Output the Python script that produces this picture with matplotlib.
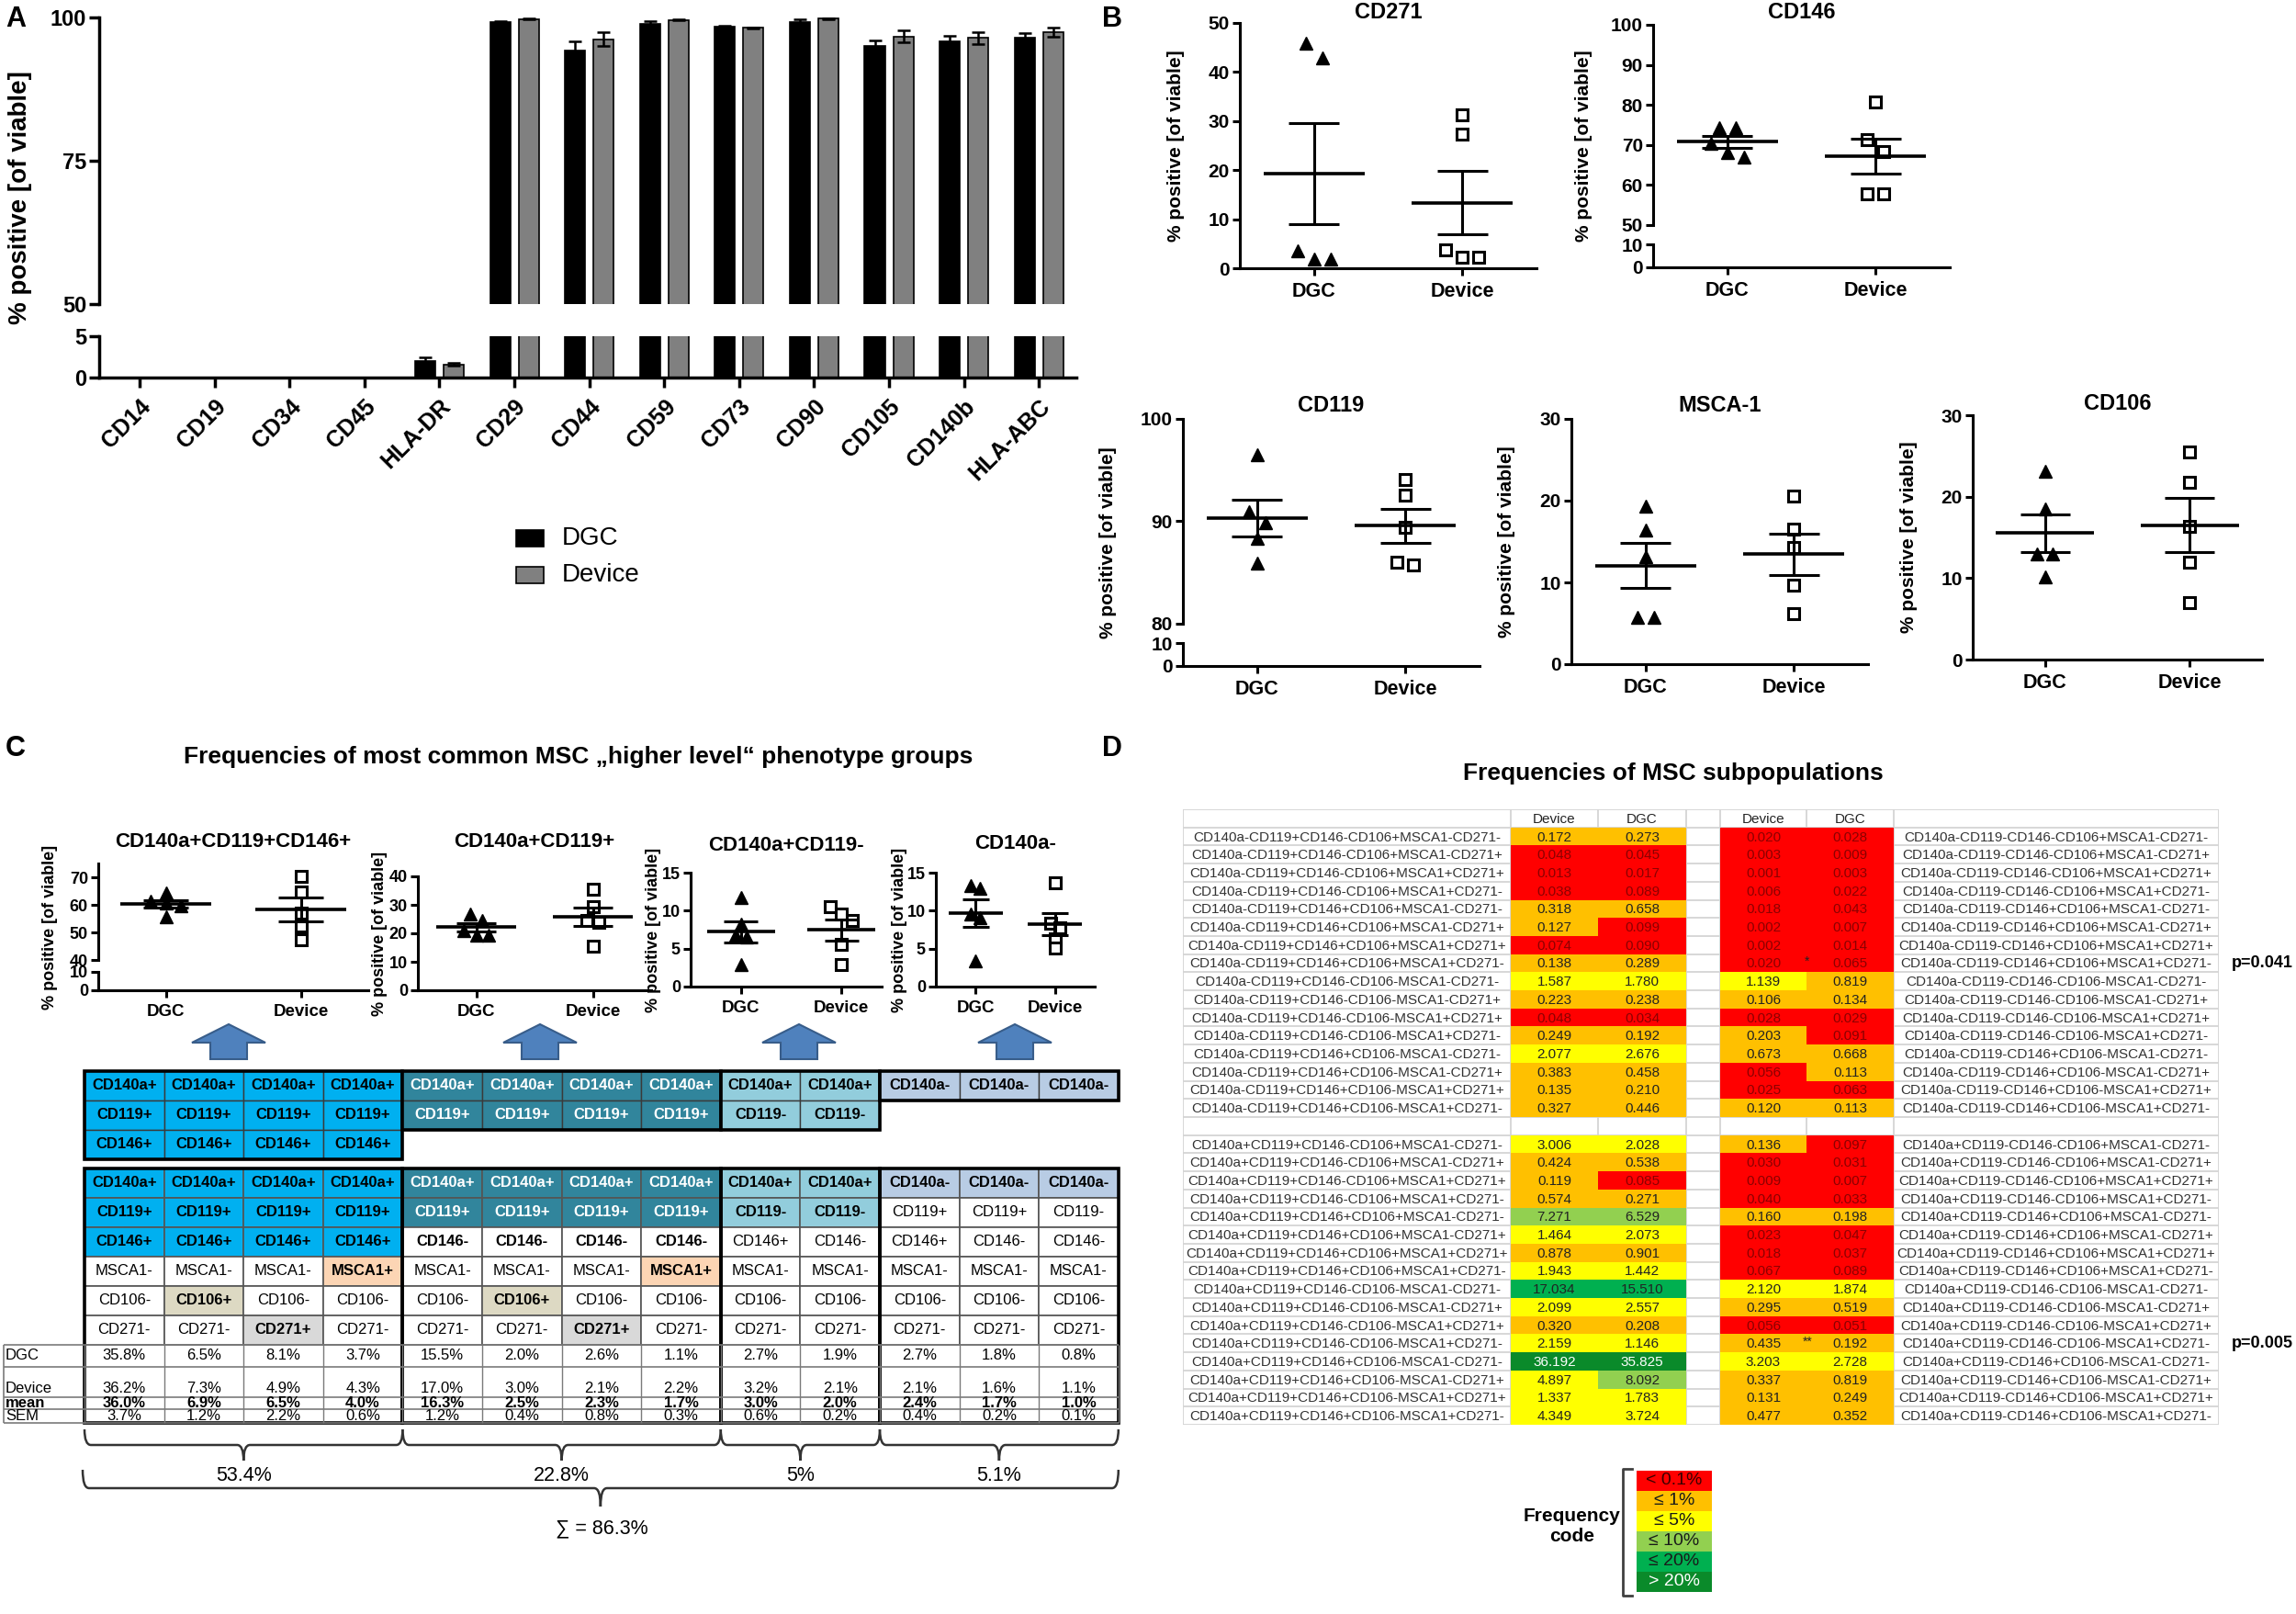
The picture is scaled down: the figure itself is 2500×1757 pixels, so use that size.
import numpy as np
import matplotlib
matplotlib.use("Agg")
import matplotlib.pyplot as plt
from matplotlib.patches import Rectangle, FancyArrow, PathPatch
from matplotlib.path import Path

plt.rcParams['font.family'] = ['Liberation Sans', 'DejaVu Sans']

W, H = 2500, 1757

# ---------------- panel A: surface markers (mean, SEM)
markers_a = ["CD14", "CD19", "CD34", "CD45", "HLA-DR", "CD29", "CD44", "CD59",
             "CD73", "CD90", "CD105", "CD140b", "HLA-ABC"]
dgc_a = [0, 0, 0, 0, 2.05, 99.2, 94.3, 98.9, 98.4, 99.2, 95.1, 95.9, 96.4]
dgc_a_err = [0, 0, 0, 0, 0.45, 0.2, 1.6, 0.5, 0.1, 0.5, 0.9, 0.9, 0.9]
dev_a = [0, 0, 0, 0, 1.6, 99.7, 96.2, 99.55, 98.2, 99.8, 96.7, 96.4, 97.5]
dev_a_err = [0, 0, 0, 0, 0.2, 0.1, 1.2, 0.1, 0.1, 0.05, 1.0, 1.0, 0.8]

# ---------------- panel B: single markers, 5 donors each
cd271_dgc = [45.9, 42.9, 3.6, 1.9, 1.9]
cd271_dev = [31.3, 27.3, 3.7, 2.3, 2.3]
cd146_dgc = [74.3, 74.3, 70.3, 68.1, 67.0]
cd146_dev = [80.8, 71.4, 68.3, 57.8, 57.8]
cd119_dgc = [96.5, 90.9, 89.9, 88.3, 85.9]
cd119_dev = [94.1, 92.6, 89.4, 86.0, 85.7]
msca1_dgc = [19.3, 16.4, 13.1, 5.7, 5.7]
msca1_dev = [20.6, 16.5, 14.3, 9.7, 6.2]
cd106_dgc = [23.1, 18.5, 13.0, 13.0, 10.1]
cd106_dev = [25.5, 21.8, 16.4, 11.9, 7.0]

# ---------------- panel C: phenotype groups
grp_titles = ["CD140a+CD119+CD146+", "CD140a+CD119+", "CD140a+CD119-", "CD140a-"]
g1_dgc = [64.4, 61.2, 60.6, 59.8, 55.6]
g1_dev = [70.5, 64.7, 57.0, 52.2, 47.2]
g2_dgc = [26.7, 24.5, 21.0, 19.5, 19.5]
g2_dev = [35.5, 29.5, 24.6, 24.0, 15.4]
g3_dgc = [11.7, 8.2, 6.8, 6.5, 2.95]
g3_dev = [10.5, 9.6, 8.7, 5.6, 2.9]
g4_dgc = [13.35, 12.9, 9.5, 9.1, 3.4]
g4_dev = [13.7, 8.4, 7.7, 6.3, 5.1]

c_rows = [
    ["CD140a+"] * 10 + ["CD140a-"] * 3,
    ["CD119+"] * 8 + ["CD119-"] * 2 + ["CD119+", "CD119+", "CD119-"],
    ["CD146+"] * 4 + ["CD146-"] * 4 + ["CD146+", "CD146-", "CD146+", "CD146-", "CD146-"],
    ["MSCA1-"] * 3 + ["MSCA1+"] + ["MSCA1-"] * 3 + ["MSCA1+"] + ["MSCA1-"] * 5,
    ["CD106-", "CD106+", "CD106-", "CD106-", "CD106-", "CD106+"] + ["CD106-"] * 7,
    ["CD271-", "CD271-", "CD271+", "CD271-", "CD271-", "CD271-", "CD271+"] + ["CD271-"] * 6,
]
c_dgc = [35.8, 6.5, 8.1, 3.7, 15.5, 2.0, 2.6, 1.1, 2.7, 1.9, 2.7, 1.8, 0.8]
c_dev = [36.2, 7.3, 4.9, 4.3, 17.0, 3.0, 2.1, 2.2, 3.2, 2.1, 2.1, 1.6, 1.1]
c_mean = [36.0, 6.9, 6.5, 4.0, 16.3, 2.5, 2.3, 1.7, 3.0, 2.0, 2.4, 1.7, 1.0]
c_sem = [3.7, 1.2, 2.2, 0.6, 1.2, 0.4, 0.8, 0.3, 0.6, 0.2, 0.4, 0.2, 0.1]
grp_cols = [(0, 4), (4, 8), (8, 10), (10, 13)]
grp_depth = [3, 2, 2, 1]
grp_sum = [53.4, 22.8, 5, 5.1]
total_sum = 86.3

# ---------------- panel D: subpopulation frequencies
row_suffix = ["CD146-CD106+MSCA1-CD271-", "CD146-CD106+MSCA1-CD271+",
              "CD146-CD106+MSCA1+CD271+", "CD146-CD106+MSCA1+CD271-",
              "CD146+CD106+MSCA1-CD271-", "CD146+CD106+MSCA1-CD271+",
              "CD146+CD106+MSCA1+CD271+", "CD146+CD106+MSCA1+CD271-",
              "CD146-CD106-MSCA1-CD271-", "CD146-CD106-MSCA1-CD271+",
              "CD146-CD106-MSCA1+CD271+", "CD146-CD106-MSCA1+CD271-",
              "CD146+CD106-MSCA1-CD271-", "CD146+CD106-MSCA1-CD271+",
              "CD146+CD106-MSCA1+CD271+", "CD146+CD106-MSCA1+CD271-"]
prefixes = [["CD140a-CD119+", "CD140a-CD119-"], ["CD140a+CD119+", "CD140a+CD119-"]]
tl_dev = [0.172, 0.048, 0.013, 0.038, 0.318, 0.127, 0.074, 0.138,
          1.587, 0.223, 0.048, 0.249, 2.077, 0.383, 0.135, 0.327]
tl_dgc = [0.273, 0.045, 0.017, 0.089, 0.658, 0.099, 0.090, 0.289,
          1.780, 0.238, 0.034, 0.192, 2.676, 0.458, 0.210, 0.446]
tr_dev = [0.020, 0.003, 0.001, 0.006, 0.018, 0.002, 0.002, 0.020,
          1.139, 0.106, 0.028, 0.203, 0.673, 0.056, 0.025, 0.120]
tr_dgc = [0.028, 0.009, 0.003, 0.022, 0.043, 0.007, 0.014, 0.065,
          0.819, 0.134, 0.029, 0.091, 0.668, 0.113, 0.063, 0.113]
bl_dev = [3.006, 0.424, 0.119, 0.574, 7.271, 1.464, 0.878, 1.943,
          17.034, 2.099, 0.320, 2.159, 36.192, 4.897, 1.337, 4.349]
bl_dgc = [2.028, 0.538, 0.085, 0.271, 6.529, 2.073, 0.901, 1.442,
          15.510, 2.557, 0.208, 1.146, 35.825, 8.092, 1.783, 3.724]
br_dev = [0.136, 0.030, 0.009, 0.040, 0.160, 0.023, 0.018, 0.067,
          2.120, 0.295, 0.056, 0.435, 3.203, 0.337, 0.131, 0.477]
br_dgc = [0.097, 0.031, 0.007, 0.033, 0.198, 0.047, 0.037, 0.089,
          1.874, 0.519, 0.051, 0.192, 2.728, 0.819, 0.249, 0.352]
signif = [(0, 7, "*", "p=0.041"), (1, 11, "**", "p=0.005")]   # block, row, stars, p
freq_edges = [0.1, 1, 5, 10, 20]
freq_colors = ["#FF0000", "#FFC000", "#FFFF00", "#92D050", "#00B050", "#0A8A2A"]
freq_labels = ["< 0.1%", "≤ 1%", "≤ 5%", "≤ 10%", "≤ 20%", "> 20%"]


fig = plt.figure(figsize=(W / 100, H / 100), dpi=100)


def add_ax(x0, y0, x1, y1):
    # pixel box (top-left origin) -> figure axes
    return fig.add_axes([x0 / W, 1 - y1 / H, (x1 - x0) / W, (y1 - y0) / H])


ov = add_ax(0, 0, W, H)
ov.set_xlim(0, W)
ov.set_ylim(H, 0)
ov.axis('off')


def bold_ticks(ax):
    for t in ax.get_xticklabels() + ax.get_yticklabels():
        t.set_fontweight('bold')


def style_ax(ax, fs, lw=2.2, tl=6):
    for sp in ('top', 'right'):
        ax.spines[sp].set_visible(False)
    for sp in ('left', 'bottom'):
        ax.spines[sp].set_linewidth(lw)
    ax.tick_params(direction='out', length=tl, width=lw, labelsize=fs, pad=2)
    ax.patch.set_alpha(0)


def spread(vals, tol, step):
    vals = np.asarray(vals, float)
    order = np.argsort(-vals)
    offs = np.zeros(len(vals))
    groups, cur = [], [order[0]]
    for i in order[1:]:
        if abs(vals[cur[-1]] - vals[i]) < tol:
            cur.append(i)
        else:
            groups.append(cur)
            cur = [i]
    groups.append(cur)
    for g in groups:
        for k, idx in enumerate(g):
            offs[idx] = (k - (len(g) - 1) / 2) * step
    return offs


def dot_plot(x0, x1, y_top, y_zero, ylim, yticks, dgc, dev, title, fs, tfs, ms,
             brk=None, xr=(-0.5, 1.5), ydx=70, ty=None):
    if brk is None:
        up = lo = add_ax(x0, y_top, x1, y_zero)
        axes = [up]
    else:
        y_up_bot, y_lo_top, lo_lim, lo_ticks = brk
        up = add_ax(x0, y_top, x1, y_up_bot)
        lo = add_ax(x0, y_lo_top, x1, y_zero)
        axes = [up, lo]
        lo.set_ylim(*lo_lim)
        lo.set_yticks(lo_ticks)
    for ax in axes:
        style_ax(ax, fs)
        ax.set_xlim(*xr)
    if brk is not None:
        up.spines['bottom'].set_visible(False)
        up.set_xticks([])
    up.set_ylim(*ylim)
    up.set_yticks(list(yticks))
    lo.set_xticks([0, 1])
    lo.set_xticklabels(["DGC", "Device"], fontsize=fs + 0.5)
    lo.tick_params(axis='x', pad=5)
    tol = 0.065 * (ylim[1] - ylim[0])
    for i, vals in enumerate((dgc, dev)):
        offs = spread(vals, tol, 0.11)
        if i == 0:
            up.plot(i + offs, vals, ls='none', marker='^', ms=ms, color='black', clip_on=False)
        else:
            up.plot(i + offs, vals, ls='none', marker='s', ms=ms * 0.85, mfc='white',
                    mec='black', mew=2.2, clip_on=False)
        m = np.mean(vals)
        se = np.std(vals, ddof=1) / np.sqrt(len(vals))
        up.hlines(m, i - 0.34, i + 0.34, color='black', lw=2.6)
        up.vlines(i, m - se, m + se, color='black', lw=2.2)
        up.hlines([m - se, m + se], i - 0.17, i + 0.17, color='black', lw=2.2)
    for ax in axes:
        bold_ticks(ax)
    ov.text(x0 - ydx, (y_top + y_zero) / 2, "% positive [of viable]", rotation=90,
            ha='center', va='center', fontsize=fs, fontweight='bold')
    ty = y_top - 12 if ty is None else ty
    ov.text((x0 + x1) / 2, ty, title, ha='center', va='center', fontsize=tfs, fontweight='bold')


# ================= panel A =================
xa = np.arange(len(markers_a))
axA_up = add_ax(108, 19, 1172, 331)
axA_lo = add_ax(108, 366, 1172, 411)
for ax in (axA_up, axA_lo):
    for off, vals, errs, col in ((-0.19, dgc_a, dgc_a_err, 'black'),
                                 (0.19, dev_a, dev_a_err, '#808080')):
        ax.bar(xa + off, vals, 0.27, color=col, edgecolor='black', linewidth=1.2)
        e = np.array(errs) > 0
        ax.errorbar((xa + off)[e], np.array(vals)[e], yerr=np.array(errs)[e], fmt='none',
                    ecolor='black', elinewidth=1.8, capsize=5, capthick=1.8)
    style_ax(ax, 17, lw=2.5, tl=8)
    ax.set_xlim(-0.54, 12.5)
axA_up.set_ylim(50, 100)
axA_up.set_yticks([50, 75, 100])
axA_up.spines['bottom'].set_visible(False)
axA_up.set_xticks([])
axA_lo.set_ylim(0, 5)
axA_lo.set_yticks([0, 5])
axA_lo.set_xticks(xa)
axA_lo.set_xticklabels(markers_a, rotation=45, ha='right', rotation_mode='anchor', fontsize=18)
axA_lo.tick_params(axis='x', pad=6)
bold_ticks(axA_up)
bold_ticks(axA_lo)
ov.text(22, 215, "% positive [of viable]", rotation=90, ha='center', va='center',
        fontsize=20, fontweight='bold')
for k, (lab, col) in enumerate((("DGC", 'black'), ("Device", '#808080'))):
    ov.add_patch(Rectangle((562, 577 + 40 * k), 30, 18, fc=col, ec='black', lw=1.2))
    ov.text(612, 586 + 40 * k, lab, ha='left', va='center', fontsize=20)

# ================= panel B =================
dot_plot(1350, 1673, 25, 292, (0, 50), range(0, 51, 10), cd271_dgc, cd271_dev, "CD271",
         15, 17, 10, ty=14)
dot_plot(1800, 2123, 27, 291, (50, 100), range(50, 101, 10), cd146_dgc, cd146_dev, "CD146",
         15, 17, 10, brk=(245, 266, (0, 10), [0, 10]), ydx=76, ty=14)
dot_plot(1288, 1611, 456, 725, (80, 100), [80, 90, 100], cd119_dgc, cd119_dev, "CD119",
         15, 17, 10, brk=(679, 700, (0, 10), [0, 10]), ydx=82, ty=442)
dot_plot(1711, 2034, 456, 723, (0, 30), [0, 10, 20, 30], msca1_dgc, msca1_dev, "MSCA-1",
         15, 17, 10, ty=442)
dot_plot(2148, 2463, 452, 718, (0, 30), [0, 10, 20, 30], cd106_dgc, cd106_dev, "CD106",
         15, 17, 10, ty=440)

# ================= panel C plots =================
dot_plot(107, 401, 940, 1078, (40, 75), [40, 50, 60, 70], g1_dgc, g1_dev, grp_titles[0],
         13, 16, 9.5, brk=(1045, 1058, (0, 10), [0, 10]), ydx=52, ty=917)
dot_plot(455, 709, 954, 1078, (0, 40), range(0, 41, 10), g2_dgc, g2_dev, grp_titles[1],
         13, 16, 9.5, ydx=42, ty=917)
dot_plot(752, 960, 950, 1074, (0, 15), [0, 5, 10, 15], g3_dgc, g3_dev, grp_titles[2],
         13, 16, 9.5, xr=(-0.5, 1.4), ydx=40, ty=920)
dot_plot(1019, 1192, 950, 1074, (0, 15), [0, 5, 10, 15], g4_dgc, g4_dev, grp_titles[3],
         13, 16, 9.5, ydx=40, ty=919)

# ================= panel C tables =================
col_w = 86.6
cx = [92 + i * col_w for i in range(14)]
grp_color = ['#00B0F0', '#31859C', '#92CDDC', '#B8CCE4']
grp_txt = ['black', 'white', 'black', 'black']
hi_color = {"MSCA1+": '#FCD5B4', "CD106+": '#DDD9C3', "CD271+": '#D9D9D9'}
col_grp = [g for g, (a, b) in enumerate(grp_cols) for _ in range(a, b)]

for xc in [249, 588, 870, 1105]:
    ov.add_patch(FancyArrow(xc, 1153, 0, -38, width=40, head_width=80, head_length=20,
                            length_includes_head=True, fc='#4F81BD', ec='#385D8A', lw=1.5))

row_h = 32
top_y = [1166 + row_h * i for i in range(4)]
for g, (c0, c1) in enumerate(grp_cols):
    for r in range(grp_depth[g]):
        for c in range(c0, c1):
            ov.add_patch(Rectangle((cx[c], top_y[r]), col_w, row_h, fc=grp_color[g],
                                   ec='#3a3a3a', lw=1))
            ov.text(cx[c] + col_w / 2, top_y[r] + row_h / 2, c_rows[r][c], ha='center',
                    va='center', fontsize=12, fontweight='bold', color=grp_txt[g])
    ov.add_patch(Rectangle((cx[c0], top_y[0]), cx[c1] - cx[c0], top_y[grp_depth[g]] - top_y[0],
                           fill=False, ec='black', lw=2.6))

bot_y = [1272 + row_h * i for i in range(7)]
val_y = [1464, 1488, 1521, 1534, 1549]
for r in range(6):
    for c in range(13):
        g = col_grp[c]
        txt = c_rows[r][c]
        if r < grp_depth[g]:
            fc, tc, fw = grp_color[g], grp_txt[g], 'bold'
        elif txt in hi_color:
            fc, tc, fw = hi_color[txt], 'black', 'bold'
        else:
            fc, tc = 'white', 'black'
            fw = 'bold' if (g == 1 and r == 2) else 'normal'
        ov.add_patch(Rectangle((cx[c], bot_y[r]), col_w, row_h, fc=fc, ec='#555555', lw=1.2))
        ov.text(cx[c] + col_w / 2, bot_y[r] + row_h / 2, txt, ha='center', va='center',
                fontsize=12, fontweight=fw, color=tc)

row_names = ["DGC", "Device", "mean", "SEM"]
row_vals = [c_dgc, c_dev, c_mean, c_sem]
row_text_y = [1476, 1512, 1528, 1542]
ov.hlines(val_y, 4, cx[-1], color='#7a7a7a', lw=1.2)
ov.vlines(4, val_y[0], val_y[-1], color='#7a7a7a', lw=1.2)
ov.vlines(cx, val_y[0], val_y[-1], color='#7a7a7a', lw=1.0)
for k, (name, vals) in enumerate(zip(row_names, row_vals)):
    fw = 'bold' if name == "mean" else 'normal'
    ov.text(6, row_text_y[k], name, ha='left', va='center', fontsize=12, fontweight=fw)
    for c, v in enumerate(vals):
        ov.text(cx[c] + col_w / 2, row_text_y[k], f"{v:.1f}%", ha='center', va='center',
                fontsize=12, fontweight=fw)
for g, (c0, c1) in enumerate(grp_cols):
    ov.add_patch(Rectangle((cx[c0], bot_y[0]), cx[c1] - cx[c0], val_y[-1] - bot_y[0],
                           fill=False, ec='black', lw=2.6))


def brace(x0, x1, y_top, y_bot, lw=1.8):
    xm = (x0 + x1) / 2
    ym = (y_top + y_bot) / 2
    r = 7
    verts = [(x0, y_top), (x0, ym), (x0 + r, ym), (xm - r, ym), (xm, ym), (xm, y_bot),
             (xm, y_bot), (xm, ym), (xm + r, ym), (x1 - r, ym), (x1, ym), (x1, y_top)]
    codes = [Path.MOVETO, Path.CURVE3, Path.CURVE3, Path.LINETO, Path.CURVE3, Path.CURVE3,
             Path.MOVETO, Path.CURVE3, Path.CURVE3, Path.LINETO, Path.CURVE3, Path.CURVE3]
    ov.add_patch(PathPatch(Path(verts, codes), fill=False, ec='#333333', lw=lw))


for g, (c0, c1) in enumerate(grp_cols):
    brace(cx[c0], cx[c1], 1556, 1590)
    ov.text((cx[c0] + cx[c1]) / 2, 1606, f"{grp_sum[g]:g}%", ha='center', va='center',
            fontsize=15.5)
brace(cx[0] - 2, cx[-1], 1600, 1640)
ov.text((cx[0] + cx[-1]) / 2, 1664, f"∑ = {total_sum}%", ha='center', va='center',
        fontsize=15.5)

# ================= panel D table =================
d_edges = [1288, 1645, 1740, 1836, 1873, 1967, 2062, 2416]
n_rows = 34
axD = add_ax(d_edges[0], 881, d_edges[-1], 1551)
axD.set_xlim(d_edges[0], d_edges[-1])
axD.set_ylim(n_rows, 0)
axD.axis('off')
axD.hlines(np.arange(n_rows + 1), d_edges[0], d_edges[-1], color='#D4D4D4', lw=1.3, zorder=1)
axD.vlines(d_edges, 0, n_rows, color='#D4D4D4', lw=1.3, zorder=1)


def cmid(c):
    return (d_edges[c] + d_edges[c + 1]) / 2


for c, lab in zip([1, 2, 4, 5], ["Device", "DGC", "Device", "DGC"]):
    axD.text(cmid(c), 0.55, lab, ha='center', va='center', fontsize=11, color='#222222')

block_vals = [[(tl_dev, tl_dgc), (tr_dev, tr_dgc)], [(bl_dev, bl_dgc), (br_dev, br_dgc)]]
for b, r0 in enumerate([1, 18]):
    for side, (c_dev, c_lab) in enumerate([(1, 0), (4, 6)]):
        dev, dgc = block_vals[b][side]
        for i, suf in enumerate(row_suffix):
            r = r0 + i
            axD.text(cmid(c_lab), r + 0.55, prefixes[b][side] + suf, ha='center', va='center',
                     fontsize=11, color='#333333')
            for k, v in enumerate((dev[i], dgc[i])):
                c = c_dev + k
                idx = int(np.searchsorted(freq_edges, v, side='left'))
                axD.add_patch(Rectangle((d_edges[c], r), d_edges[c + 1] - d_edges[c], 1,
                                        fc=freq_colors[idx], lw=0, zorder=2))
                tc = '#8B0000' if idx == 0 else ('white' if idx == 5 else '#222222')
                axD.text(cmid(c), r + 0.55, f"{v:.3f}", ha='center', va='center',
                         fontsize=11, color=tc, zorder=3)

for b, i, stars, ptxt in signif:
    r = [1, 18][b] + i
    axD.text(d_edges[5] + 1, r + 0.4, stars, ha='center', va='center', fontsize=10,
             color='#222222', zorder=4)
    axD.text(d_edges[-1] + 14, r + 0.5, ptxt, ha='left', va='center', fontsize=13,
             fontweight='bold', clip_on=False)

# legend of frequency codes
leg_x0, leg_x1, leg_y0, leg_h = 1782, 1864, 1601, 22
for k, (lab, col) in enumerate(zip(freq_labels, freq_colors)):
    ov.add_patch(Rectangle((leg_x0, leg_y0 + k * leg_h), leg_x1 - leg_x0, leg_h, fc=col, lw=0))
    tc = '#3a0000' if k == 0 else ('white' if k == 5 else '#1a1a1a')
    ov.text((leg_x0 + leg_x1) / 2, leg_y0 + (k + 0.5) * leg_h, lab, ha='center', va='center',
            fontsize=14, color=tc)
ov.plot([1777, 1767, 1767, 1777], [1599, 1599, 1737, 1737], color='#404040', lw=2)
ov.text(1712, 1662, "Frequency\ncode", ha='center', va='center', fontsize=15,
        fontweight='bold', linespacing=1.2)

# ================= titles and panel letters =================
ov.text(630, 824, "Frequencies of most common MSC \u201ehigher level\u201c phenotype groups",
        ha='center', va='center', fontsize=19, fontweight='bold')
ov.text(1822, 842, "Frequencies of MSC subpopulations", ha='center', va='center',
        fontsize=19, fontweight='bold')
for lab, x, y in (("A", 6, 6), ("B", 1200, 6), ("C", 6, 800), ("D", 1200, 800)):
    ov.text(x, y, lab, ha='left', va='top', fontsize=22, fontweight='bold')

fig.savefig("out.png", dpi=100)
